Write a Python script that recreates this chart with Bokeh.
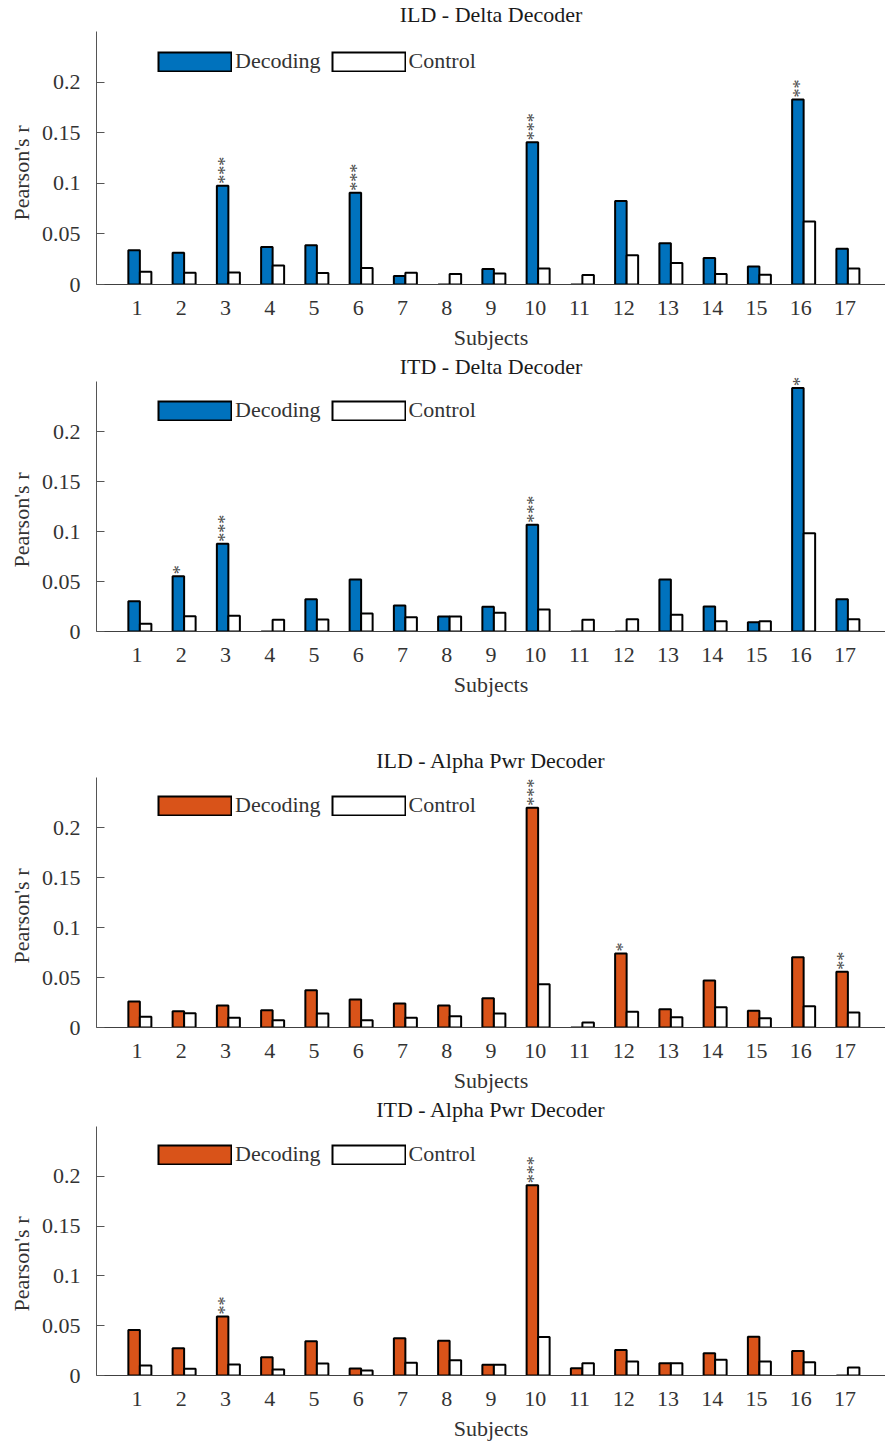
import math
from bokeh.plotting import figure
from bokeh.layouts import column
from bokeh.models import ColumnDataSource, FixedTicker, Title, LegendItem, Legend
from bokeh.transform import dodge
from bokeh.core.properties import value
from bokeh.embed import file_html
from bokeh.resources import INLINE

FONT = "Liberation Serif"
TEXT_COLOR = "#333333"
BLUE = "#0072BD"
ORANGE = "#D95319"

subjects = list(range(1, 18))
xtick_labels = [str(s) for s in subjects]
ytick_values = [0, 0.05, 0.1, 0.15, 0.2]
ytick_labels = ["0", "0.05", "0.1", "0.15", "0.2"]

# ILD - Delta decoder
ild_delta_decoding = [0.0338, 0.0315, 0.0977, 0.0371, 0.0387, 0.0907, 0.0083, 0.0, 0.0152,
                      0.1406, 0.0, 0.0825, 0.0407, 0.0262, 0.0179, 0.1828, 0.0354]
ild_delta_control = [0.0126, 0.0116, 0.0119, 0.0189, 0.0113, 0.0162, 0.0116, 0.0103, 0.0109,
                     0.0159, 0.0093, 0.0288, 0.0212, 0.0103, 0.0096, 0.0623, 0.0159]
ild_delta_sig = ["", "", "***", "", "", "***", "", "", "", "***", "", "", "", "", "", "**", ""]

# ITD - Delta decoder
itd_delta_decoding = [0.0303, 0.0553, 0.0877, 0.0, 0.0323, 0.0520, 0.0260, 0.0150, 0.0247,
                      0.1067, 0.0, 0.0, 0.0520, 0.0250, 0.0093, 0.2435, 0.0323]
itd_delta_control = [0.0077, 0.0153, 0.0157, 0.0117, 0.0120, 0.0180, 0.0143, 0.0150, 0.0187,
                     0.0220, 0.0117, 0.0123, 0.0167, 0.0103, 0.0103, 0.0983, 0.0123]
itd_delta_sig = ["", "*", "***", "", "", "", "", "", "", "***", "", "", "", "", "", "*", ""]

# ILD - Alpha power decoder
ild_alpha_decoding = [0.0260, 0.0163, 0.0220, 0.0173, 0.0373, 0.0280, 0.0240, 0.0220, 0.0293,
                      0.2197, 0.0, 0.0740, 0.0183, 0.0470, 0.0167, 0.0703, 0.0557]
ild_alpha_control = [0.0107, 0.0143, 0.0097, 0.0073, 0.0140, 0.0073, 0.0097, 0.0113, 0.0140,
                     0.0433, 0.0050, 0.0157, 0.0103, 0.0203, 0.0093, 0.0213, 0.0150]
ild_alpha_sig = ["", "", "", "", "", "", "", "", "", "***", "", "*", "", "", "", "", "**"]

# ITD - Alpha power decoder
itd_alpha_decoding = [0.0457, 0.0273, 0.0593, 0.0183, 0.0343, 0.0070, 0.0373, 0.0350, 0.0107,
                      0.1910, 0.0073, 0.0257, 0.0123, 0.0223, 0.0390, 0.0247, 0.0]
itd_alpha_control = [0.0100, 0.0067, 0.0110, 0.0060, 0.0120, 0.0050, 0.0127, 0.0153, 0.0107,
                     0.0387, 0.0123, 0.0140, 0.0123, 0.0157, 0.0140, 0.0133, 0.0080]
itd_alpha_sig = ["", "", "**", "", "", "", "", "", "", "***", "", "", "", "", "", "", ""]

DEC_SHIFT = -0.065
CTL_SHIFT = 0.195
BAR_W = 0.26
Y_TOP = 0.25          # end of the drawn y axis
Y_END = 0.26          # a little headroom above it for the significance stars
SWATCH_W, SWATCH_H = 75, 21


def make_panel(title, dec, ctl, sig, color, border_top, frame_h, border_bottom,
               title_standoff, legend_gap=21):
    p = figure(width=885, height=border_top + frame_h + border_bottom,
               x_range=(0.085, 17.915), y_range=(0, Y_END),
               output_backend="svg", toolbar_location=None, title=title,
               min_border_left=96, min_border_right=0,
               min_border_top=border_top, min_border_bottom=border_bottom)
    p.title.align = "center"
    p.title.text_font = FONT
    p.title.text_font_size = "22px"
    p.title.text_font_style = "normal"
    p.title.text_color = "#1a1a1a"
    p.title.standoff = title_standoff

    src = ColumnDataSource(dict(subject=subjects, decoding=dec, control=ctl, sig=sig))
    p.vbar(x=dodge("subject", DEC_SHIFT, range=p.x_range), top="decoding", width=BAR_W,
           fill_color=color, line_color="black", line_width=2, source=src)
    p.vbar(x=dodge("subject", CTL_SHIFT, range=p.x_range), top="control", width=BAR_W,
           fill_color="white", line_color="black", line_width=2, source=src)

    # significance stars stacked above the decoding bar
    p.text(x=dodge("subject", DEC_SHIFT, range=p.x_range), y="decoding", text="sig",
           angle=math.pi / 2, text_align="left", text_baseline="middle",
           x_offset=2, y_offset=-2,
           text_font=value(FONT), text_font_size="18px", text_color="#4d4d4d",
           source=src)

    # legend swatches: a black outline stroke with a shorter, thinner fill stroke on top
    # (the renderers hold a single undefined point, so nothing is drawn in the plot)
    blank = ColumnDataSource(dict(x=[float("nan")], y=[float("nan")]))
    inner_dash = f"0 2 {SWATCH_W - 4} 200"
    dec_edge = p.line("x", "y", source=blank, line_color="black", line_width=SWATCH_H)
    dec_fill = p.line("x", "y", source=blank, line_color=color, line_width=SWATCH_H - 4,
                      line_dash=inner_dash)
    ctl_edge = p.line("x", "y", source=blank, line_color="black", line_width=SWATCH_H)
    ctl_fill = p.line("x", "y", source=blank, line_color="white", line_width=SWATCH_H - 4,
                      line_dash=inner_dash)
    headroom_px = frame_h * (Y_END - Y_TOP) / Y_END
    legend = Legend(items=[LegendItem(label="Decoding", renderers=[dec_edge, dec_fill]),
                           LegendItem(label="Control", renderers=[ctl_edge, ctl_fill])],
                    orientation="horizontal",
                    location=(61, frame_h - legend_gap - headroom_px - SWATCH_H),
                    margin=0, padding=0, spacing=10,
                    border_line_alpha=0, background_fill_alpha=0,
                    glyph_width=SWATCH_W, glyph_height=SWATCH_H, label_height=SWATCH_H,
                    label_standoff=3, label_text_font=FONT, label_text_font_size="22px",
                    label_text_color=TEXT_COLOR)
    p.add_layout(legend)

    xa = p.xaxis[0]
    xa.ticker = FixedTicker(ticks=subjects)
    xa.major_label_overrides = {s: lab for s, lab in zip(subjects, xtick_labels)}
    xa.major_tick_in = 0
    xa.major_tick_out = 0
    xa.minor_tick_in = 0
    xa.minor_tick_out = 0
    xa.major_label_standoff = 16
    xa.axis_label = "Subjects"
    xa.axis_label_standoff = 7
    xa.axis_line_color = "#404040"

    ya = p.yaxis[0]
    ya.ticker = FixedTicker(ticks=ytick_values)
    ya.major_label_overrides = {v: lab for v, lab in zip(ytick_values, ytick_labels)}
    ya.bounds = (0, Y_TOP)
    ya.major_tick_in = 8
    ya.major_tick_out = 0
    ya.minor_tick_in = 0
    ya.minor_tick_out = 0
    ya.major_label_standoff = 16
    ya.axis_line_color = "#555555"
    ya.major_tick_line_color = "#555555"

    for ax in (xa, ya):
        ax.major_label_text_font = FONT
        ax.major_label_text_font_size = "22px"
        ax.major_label_text_color = TEXT_COLOR
        ax.axis_label_text_font = FONT
        ax.axis_label_text_font_size = "22px"
        ax.axis_label_text_font_style = "normal"
        ax.axis_label_text_color = TEXT_COLOR

    # y-axis caption, drawn from the lower part of the frame upwards
    ylab = Title(text="Pearson's r", align="left", offset=64, standoff=9,
                 text_font=FONT, text_font_size="22px", text_font_style="normal",
                 text_color=TEXT_COLOR)
    p.add_layout(ylab, "left")

    p.grid.visible = False
    p.outline_line_color = None
    p.background_fill_color = "white"
    p.border_fill_color = "white"
    return p


p1 = make_panel("ILD - Delta Decoder", ild_delta_decoding, ild_delta_control, ild_delta_sig,
                BLUE, 21, 263, 68, -11, legend_gap=22)
p2 = make_panel("ITD - Delta Decoder", itd_delta_decoding, itd_delta_control, itd_delta_sig,
                BLUE, 19, 260, 69, -14)
p3 = make_panel("ILD - Alpha Pwr Decoder", ild_alpha_decoding, ild_alpha_control, ild_alpha_sig,
                ORANGE, 67, 260, 68, -11, legend_gap=20)
p4 = make_panel("ITD - Alpha Pwr Decoder", itd_alpha_decoding, itd_alpha_control, itd_alpha_sig,
                ORANGE, 21, 260, 67, -11)

layout = column(p1, p2, p3, p4, spacing=0)
open("out.html", "w").write(file_html(layout, INLINE))
